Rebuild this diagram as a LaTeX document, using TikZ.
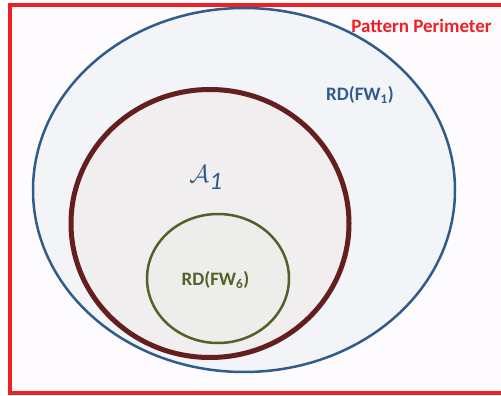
\documentclass[tikz,border=0pt]{standalone}
\usepackage{amsmath}
\usepackage{fontspec}
\setmainfont{Carlito}
\usetikzlibrary{shapes.geometric}
\definecolor{pp_red}{RGB}{238,32,38}
\definecolor{rd_blue}{RGB}{47,92,140}
\definecolor{a_red}{RGB}{100,30,30}
\definecolor{rd_green}{RGB}{80,98,40}
\definecolor{bg_pink}{RGB}{253,251,253}

\tikzset{
    region/.style={ellipse, inner sep=0pt},
    label/.style={font=\fontsize{19}{21}\selectfont\bfseries, anchor=base}
}

\begin{document}
\begin{tikzpicture}[x=1pt, y=-1pt]
    \useasboundingbox (0,0) rectangle (501,396);
    \clip (0,0) rectangle (501,396);
    % pattern perimeter, runs off to the right
    \draw[pp_red, line width=4pt, fill=bg_pink] (10,5) rectangle (520,393);

    \node[region, draw=rd_blue, line width=2.5pt, fill={rgb,255:red,243;green,244;blue,247},
          minimum width=422, minimum height=364] (fw1) at (244,190) {};
    \node[region, draw=a_red, line width=5pt, fill={rgb,255:red,240;green,238;blue,239},
          minimum width=278, minimum height=268] (a1) at (210,223.5) {};
    \node[region, draw=rd_green, line width=2.5pt, fill={rgb,255:red,237;green,238;blue,235},
          minimum width=142, minimum height=129] (fw6) at (218,278.5) {};

    \node[label, text=pp_red] (pp) at (421.5,33) {Pattern Perimeter};
    \node[label, text=rd_blue] (fw1lab) at (360,101) {RD(FW$_{\text{1}}$)};
    \node[label, text=rd_green] (fw6lab) at (215.5,285) {RD(FW$_{\text{6}}$)};
    \node[anchor=base, text=rd_blue, font=\fontsize{36}{40}\selectfont] (a1lab) at (206,182) {$\mathcal{A}_{\mathit{1}}$};
\end{tikzpicture}
\end{document}
